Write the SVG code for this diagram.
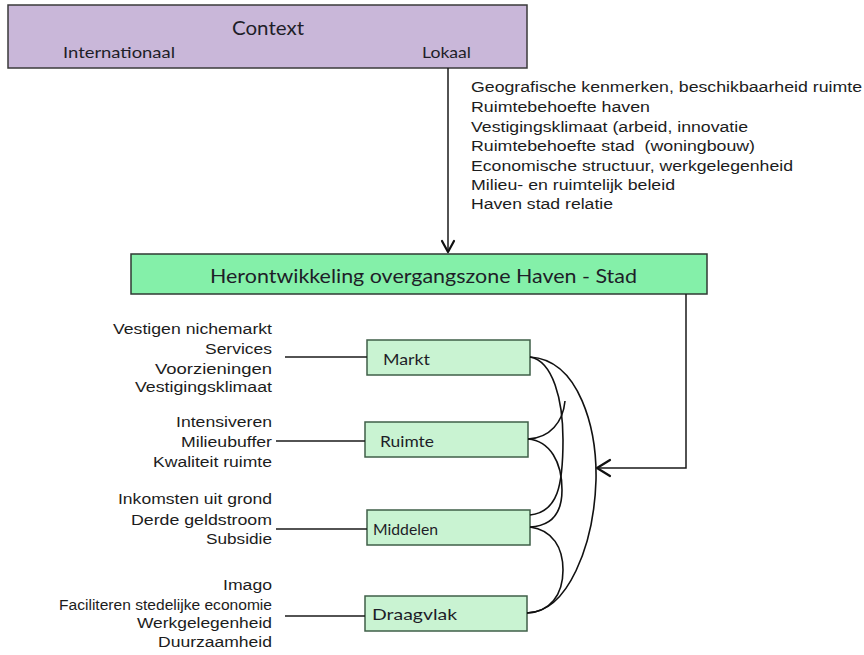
<svg xmlns="http://www.w3.org/2000/svg" width="864" height="655" viewBox="0 0 864 655">
  <defs>
    <style>
      .bg { fill: #ffffff; }
      .ctx { fill: #c9b7d9; stroke: #3a3a3a; stroke-width: 1.5; }
      .main { fill: #84f0a9; stroke: #2f3a33; stroke-width: 1.5; }
      .sub { fill: #c9f3d2; stroke: #3f5f48; stroke-width: 1.5; }
      .cal { font-family: Lato, "Open Sans", sans-serif; fill: #1e1e28; }
      .ari { font-family: "Liberation Sans", Arial, sans-serif; font-size: 15.5px; fill: #1c1c1c; }
      .end { text-anchor: end; }
      .wire { fill: none; stroke: #1a1a1a; stroke-width: 1.5; }
      .curve { fill: none; stroke: #111111; stroke-width: 1.6; }
      .head { fill: none; stroke: #111111; stroke-width: 2.2; stroke-linecap: round; stroke-linejoin: round; }
    </style>
  </defs>

  <rect class="bg" x="0" y="0" width="864" height="655"/>

  <!-- Context bar -->
  <g id="context">
    <rect class="ctx" x="8" y="5" width="519" height="63"/>
    <text class="cal" x="232" y="35" font-size="19" textLength="72" lengthAdjust="spacingAndGlyphs">Context</text>
    <text class="cal" x="63" y="58" font-size="15" textLength="112" lengthAdjust="spacingAndGlyphs">Internationaal</text>
    <text class="cal" x="422" y="58" font-size="15" textLength="49" lengthAdjust="spacingAndGlyphs">Lokaal</text>
  </g>

  <!-- Local context factors -->
  <g id="factors" class="ari">
    <text x="471" y="92" textLength="391" lengthAdjust="spacingAndGlyphs">Geografische kenmerken, beschikbaarheid ruimte</text>
    <text x="471" y="112" textLength="179" lengthAdjust="spacingAndGlyphs">Ruimtebehoefte haven</text>
    <text x="471" y="132" textLength="277" lengthAdjust="spacingAndGlyphs">Vestigingsklimaat (arbeid, innovatie</text>
    <text x="471" y="151" textLength="284" lengthAdjust="spacingAndGlyphs" style="white-space:pre">Ruimtebehoefte stad  (woningbouw)</text>
    <text x="471" y="171" textLength="322" lengthAdjust="spacingAndGlyphs">Economische structuur, werkgelegenheid</text>
    <text x="471" y="190" textLength="204" lengthAdjust="spacingAndGlyphs">Milieu- en ruimtelijk beleid</text>
    <text x="471" y="209" textLength="142" lengthAdjust="spacingAndGlyphs">Haven stad relatie</text>
  </g>

  <!-- Central theme -->
  <g id="herontwikkeling">
    <rect class="main" x="131" y="254" width="576" height="40"/>
    <text class="cal" x="210" y="283" font-size="20" textLength="427" lengthAdjust="spacingAndGlyphs">Herontwikkeling overgangszone Haven - Stad</text>
  </g>

  <!-- Aspect boxes -->
  <g id="markt">
    <rect class="sub" x="367" y="340" width="163" height="35"/>
    <text class="cal" x="383" y="365" font-size="15" textLength="47" lengthAdjust="spacingAndGlyphs">Markt</text>
  </g>
  <g id="ruimte">
    <rect class="sub" x="365" y="422" width="163" height="35"/>
    <text class="cal" x="380" y="447" font-size="15" textLength="54" lengthAdjust="spacingAndGlyphs">Ruimte</text>
  </g>
  <g id="middelen">
    <rect class="sub" x="367" y="510" width="163" height="35"/>
    <text class="cal" x="373" y="535" font-size="15" textLength="65" lengthAdjust="spacingAndGlyphs">Middelen</text>
  </g>
  <g id="draagvlak">
    <rect class="sub" x="365" y="596" width="162" height="35"/>
    <text class="cal" x="372" y="620" font-size="15" textLength="85" lengthAdjust="spacingAndGlyphs">Draagvlak</text>
  </g>

  <!-- Aspect descriptions -->
  <g id="markt-items" class="ari end">
    <text x="272" y="334" textLength="159" lengthAdjust="spacingAndGlyphs">Vestigen nichemarkt</text>
    <text x="272" y="354" textLength="67" lengthAdjust="spacingAndGlyphs">Services</text>
    <text x="272" y="374" textLength="117" lengthAdjust="spacingAndGlyphs">Voorzieningen</text>
    <text x="272" y="392" textLength="137" lengthAdjust="spacingAndGlyphs">Vestigingsklimaat</text>
  </g>
  <g id="ruimte-items" class="ari end">
    <text x="272" y="427" textLength="96" lengthAdjust="spacingAndGlyphs">Intensiveren</text>
    <text x="272" y="447" textLength="91" lengthAdjust="spacingAndGlyphs">Milieubuffer</text>
    <text x="272" y="467" textLength="119" lengthAdjust="spacingAndGlyphs">Kwaliteit ruimte</text>
  </g>
  <g id="middelen-items" class="ari end">
    <text x="272" y="504" textLength="154" lengthAdjust="spacingAndGlyphs">Inkomsten uit grond</text>
    <text x="272" y="525" textLength="141" lengthAdjust="spacingAndGlyphs">Derde geldstroom</text>
    <text x="272" y="544" textLength="66" lengthAdjust="spacingAndGlyphs">Subsidie</text>
  </g>
  <g id="draagvlak-items" class="ari end">
    <text x="272" y="590" textLength="49" lengthAdjust="spacingAndGlyphs">Imago</text>
    <text x="272" y="610" textLength="213" lengthAdjust="spacingAndGlyphs">Faciliteren stedelijke economie</text>
    <text x="272" y="628" textLength="135" lengthAdjust="spacingAndGlyphs">Werkgelegenheid</text>
    <text x="272" y="647" textLength="114" lengthAdjust="spacingAndGlyphs">Duurzaamheid</text>
  </g>

  <!-- Connectors -->
  <g id="connectors">
    <!-- context down to central theme -->
    <path class="wire" d="M448,68 V252"/>
    <path class="head" d="M442,241 L448,252 L454,241"/>
    <!-- central theme back to the aspect web -->
    <path class="wire" d="M686,294 V468 H597"/>
    <path class="head" d="M610,460 L597,468 L610,476"/>
    <!-- description lines -->
    <path class="wire" d="M285,357 H367"/>
    <path class="wire" d="M276,441 H365"/>
    <path class="wire" d="M276,529 H367"/>
    <path class="wire" d="M285,616 H365"/>
    <!-- mutual links between aspects -->
    <path class="curve" d="M530,357 C580,360 597,430 596,480 C594,545 568,612 527,613"/>
    <path class="curve" d="M530,357 C553,361 563,400 563,440 C563,485 558,512 530,515"/>
    <path class="curve" d="M528,439 C550,438 563,422 565,401"/>
    <path class="curve" d="M528,439 C550,441 562,462 562,490 C562,515 550,526 530,527"/>
    <path class="curve" d="M530,527 C553,530 563,548 563,570 C563,595 550,612 527,613"/>
  </g>
</svg>
